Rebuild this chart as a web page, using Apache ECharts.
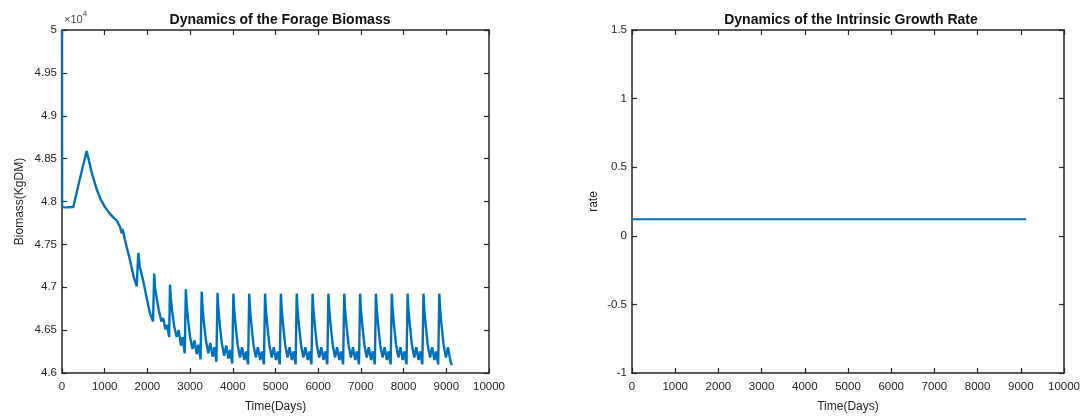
<!DOCTYPE html>
<html>
<head>
<meta charset="utf-8">
<script src="https://cdn.jsdelivr.net/npm/echarts@6/dist/echarts.min.js"></script>
<style>
html,body{margin:0;padding:0;background:#fff;}
#chart{width:1087px;height:418px;}
</style>
</head>
<body>
<div id="chart"></div>
<script>
// ---- Data ----
var biomassDays = [
  0, 2, 10, 100, 265, 350, 450, 520, 577, 620, 700, 800, 900, 1000, 1100, 1200, 1280, 1360, 1395, 1418, 1470, 1590, 1680, 1750,
  1787, 1822, 1900, 1978, 2057, 2133,
  2158, 2178, 2212, 2266, 2329, 2370, 2420, 2460, 2510,
  2529, 2549, 2579, 2629, 2685, 2732, 2786, 2825, 2874,
  2900, 2920, 2950, 3000, 3056, 3103, 3157, 3196, 3245,
  3271, 3291, 3321, 3371, 3427, 3474, 3528, 3567, 3616,
  3642, 3662, 3692, 3742, 3798, 3845, 3899, 3938, 3987,
  4013, 4033, 4063, 4113, 4169, 4216, 4270, 4309, 4358,
  4384, 4404, 4434, 4484, 4540, 4587, 4641, 4680, 4729,
  4755, 4775, 4805, 4855, 4911, 4958, 5012, 5051, 5100,
  5126, 5146, 5176, 5226, 5282, 5329, 5383, 5422, 5471,
  5497, 5517, 5547, 5597, 5653, 5700, 5754, 5793, 5842,
  5868, 5888, 5918, 5968, 6024, 6071, 6125, 6164, 6213,
  6239, 6259, 6289, 6339, 6395, 6442, 6496, 6535, 6584,
  6610, 6630, 6660, 6710, 6766, 6813, 6867, 6906, 6955,
  6981, 7001, 7031, 7081, 7137, 7184, 7238, 7277, 7326,
  7352, 7372, 7402, 7452, 7508, 7555, 7609, 7648, 7697,
  7723, 7743, 7773, 7823, 7879, 7926, 7980, 8019, 8068,
  8094, 8114, 8144, 8194, 8250, 8297, 8351, 8390, 8439,
  8465, 8485, 8515, 8565, 8621, 8668, 8722, 8761, 8810,
  8836, 8856, 8886, 8936, 8992, 9039, 9093, 9125
];
var biomassValues = [
  50000, 47960, 47935, 47932, 47935, 48120, 48330, 48470, 48590, 48500, 48330, 48160, 48030, 47940, 47870, 47815, 47780, 47705, 47630, 47680, 47560, 47320, 47120, 47010,
  47400, 47240, 47080, 46890, 46700, 46600,
  47160, 47000, 46890, 46735, 46600, 46640, 46510, 46560, 46420,
  47030, 46870, 46720, 46540, 46420, 46500, 46320, 46420, 46230,
  46975, 46800, 46630, 46420, 46280, 46380, 46220, 46330, 46160,
  46950, 46770, 46600, 46380, 46230, 46350, 46190, 46300, 46130,
  46935, 46750, 46580, 46350, 46200, 46320, 46170, 46270, 46110,
  46925, 46740, 46570, 46330, 46180, 46300, 46150, 46250, 46100,
  46925, 46740, 46570, 46330, 46180, 46300, 46150, 46250, 46100,
  46925, 46740, 46570, 46330, 46180, 46300, 46150, 46250, 46100,
  46925, 46740, 46570, 46330, 46180, 46300, 46150, 46250, 46100,
  46925, 46740, 46570, 46330, 46180, 46300, 46150, 46250, 46100,
  46925, 46740, 46570, 46330, 46180, 46300, 46150, 46250, 46100,
  46925, 46740, 46570, 46330, 46180, 46300, 46150, 46250, 46100,
  46925, 46740, 46570, 46330, 46180, 46300, 46150, 46250, 46100,
  46925, 46740, 46570, 46330, 46180, 46300, 46150, 46250, 46100,
  46925, 46740, 46570, 46330, 46180, 46300, 46150, 46250, 46100,
  46925, 46740, 46570, 46330, 46180, 46300, 46150, 46250, 46100,
  46925, 46740, 46570, 46330, 46180, 46300, 46150, 46250, 46100,
  46925, 46740, 46570, 46330, 46180, 46300, 46150, 46250, 46100,
  46925, 46740, 46570, 46330, 46180, 46300, 46150, 46090
];
var rateDays = [0, 9125];
var rateValues = [0.12, 0.12];

var titles = ['Dynamics of the Forage Biomass', 'Dynamics of the Intrinsic Growth Rate'];
var xName = 'Time(Days)';
var yNames = ['Biomass(KgDM)', 'rate'];

// ---- Chart ----
var FONT = 'Liberation Sans, Arial, sans-serif';
var AX = '#262626';
var LINE = '#0072BD';

function zip(a, b) { return a.map(function (v, i) { return [v, b[i]]; }); }

function xAx(grid, pos, show) {
  return {
    type: 'value', gridIndex: grid, position: pos, min: 0, max: 10000, interval: 1000,
    name: show ? xName : '', nameLocation: 'middle', nameGap: 28,
    nameTextStyle: { fontFamily: FONT, fontSize: 12, color: AX },
    axisLine: { show: true, onZero: false, lineStyle: { color: AX, width: 1.5 } },
    axisTick: { show: true, inside: true, length: 5, lineStyle: { color: AX, width: 1.2 } },
    axisLabel: { show: show, fontFamily: FONT, fontSize: 11.5, color: AX, margin: 8,
      formatter: function (v) { return String(v); } },
    splitLine: { show: false }
  };
}
function yAx(grid, pos, show, min, max, interval, name, fmt, gap) {
  return {
    type: 'value', gridIndex: grid, position: pos, min: min, max: max, interval: interval,
    name: show ? name : '', nameLocation: 'middle', nameGap: gap, nameRotate: 90,
    nameTextStyle: { fontFamily: FONT, fontSize: 12, color: AX },
    axisLine: { show: true, onZero: false, lineStyle: { color: AX, width: 1.5 } },
    axisTick: { show: true, inside: true, length: 5, lineStyle: { color: AX, width: 1.2 } },
    axisLabel: { show: show, fontFamily: FONT, fontSize: 11.5, color: AX, margin: 5, formatter: fmt },
    splitLine: { show: false }
  };
}

var chart = echarts.init(document.getElementById('chart'), null, { renderer: 'canvas' });
chart.setOption({
  animation: false,
  backgroundColor: '#fff',
  title: [
    { text: titles[0], left: 275, top: 8, textAlign: 'center',
      textStyle: { fontFamily: FONT, fontSize: 14, fontWeight: 'bold', color: '#111' } },
    { text: titles[1], left: 846, top: 8, textAlign: 'center',
      textStyle: { fontFamily: FONT, fontSize: 14, fontWeight: 'bold', color: '#111' } }
  ],
  graphic: [{
    type: 'text', left: 64, top: 10,
    style: { text: '{a|×10}{b|4}', rich: {
      a: { fontFamily: FONT, fontSize: 11, fill: '#444', padding: [4, 0, 0, 0] },
      b: { fontFamily: FONT, fontSize: 8, fill: '#444', verticalAlign: 'top' } } }
  }],
  grid: [
    { left: 62, right: 598, top: 30, bottom: 45 },
    { left: 632, right: 23, top: 30, bottom: 45 }
  ],
  xAxis: [
    xAx(0, 'bottom', true), xAx(0, 'top', false),
    xAx(1, 'bottom', true), xAx(1, 'top', false)
  ],
  yAxis: [
    yAx(0, 'left', true, 46000, 50000, 500, yNames[0], function (v) { return String(parseFloat((v / 10000).toFixed(2))); }, 36),
    yAx(0, 'right', false, 46000, 50000, 500, '', null, 0),
    yAx(1, 'left', true, -1, 1.5, 0.5, yNames[1], function (v) { return String(v); }, 32),
    yAx(1, 'right', false, -1, 1.5, 0.5, '', null, 0)
  ],
  series: [
    { type: 'line', xAxisIndex: 0, yAxisIndex: 0, data: zip(biomassDays, biomassValues),
      showSymbol: false, lineStyle: { color: LINE, width: 2.4 }, itemStyle: { color: LINE } },
    { type: 'line', xAxisIndex: 2, yAxisIndex: 2, data: zip(rateDays, rateValues),
      showSymbol: false, lineStyle: { color: LINE, width: 2 }, itemStyle: { color: LINE } }
  ]
});
</script>
</body>
</html>
